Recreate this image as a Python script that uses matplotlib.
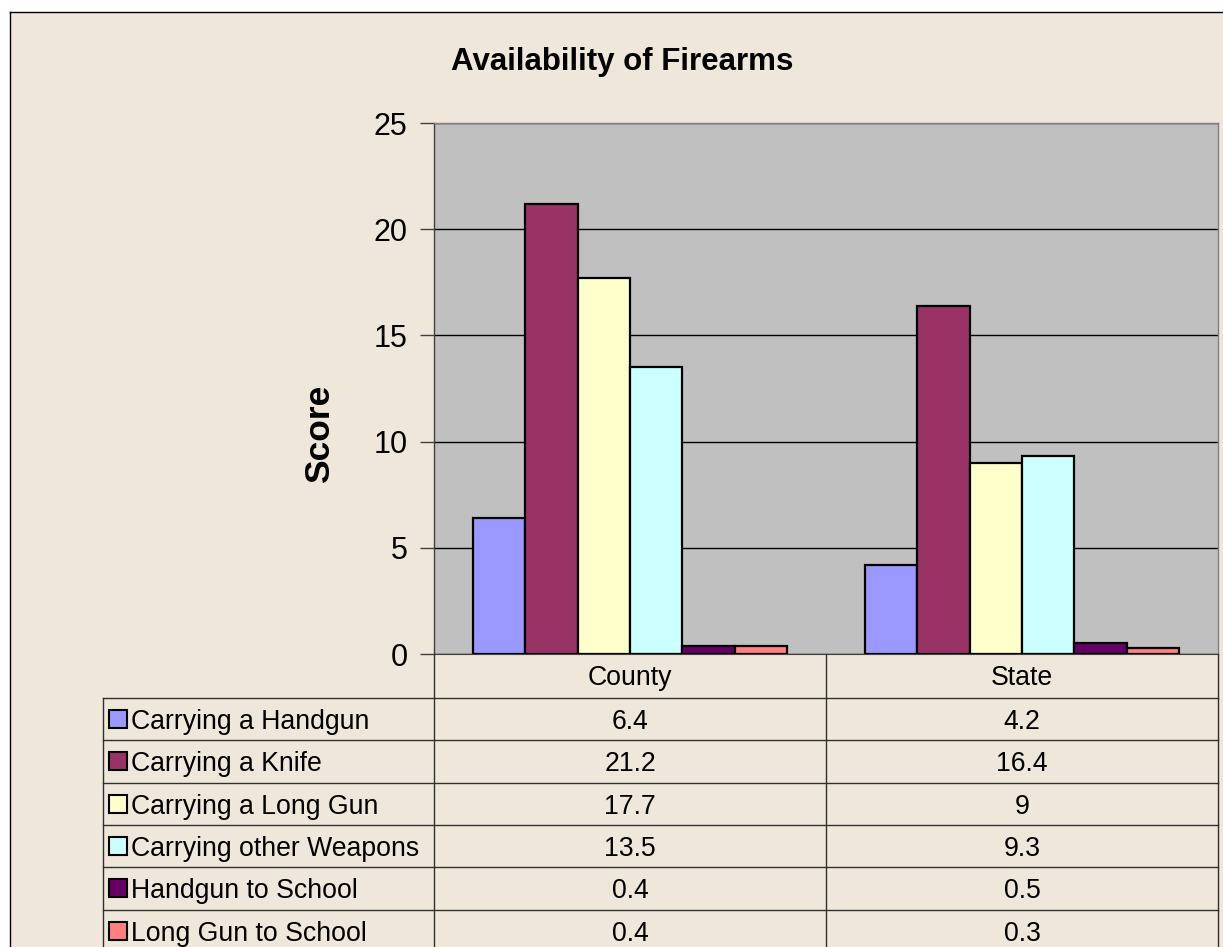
import matplotlib.pyplot as plt
from matplotlib.patches import Rectangle
from matplotlib.lines import Line2D

plt.rcParams['font.family'] = ['Liberation Sans', 'DejaVu Sans']

categories = ["County", "State"]
series_names = [
    "Carrying a Handgun",
    "Carrying a Knife",
    "Carrying a Long Gun",
    "Carrying other Weapons",
    "Handgun to School",
    "Long Gun to School",
]
county_values = [6.4, 21.2, 17.7, 13.5, 0.4, 0.4]
state_values = [4.2, 16.4, 9, 9.3, 0.5, 0.3]
value_labels = [["6.4", "4.2"], ["21.2", "16.4"], ["17.7", "9"],
                ["13.5", "9.3"], ["0.4", "0.5"], ["0.4", "0.3"]]
y_ticks = [0, 5, 10, 15, 20, 25]

colors = ["#9999FF", "#993366", "#FFFFCC", "#CCFFFF", "#660066", "#FF8080"]
BG = "#EFE7DA"
W, H = 1223, 947


def fx(px):
    return px / W


def fy(py):
    return 1 - py / H


fig = plt.figure(figsize=(W / 100, H / 100), dpi=100, facecolor="white")

# fond du graphique avec bordure gauche/haut
fig.add_artist(Rectangle((fx(10), 0), 1, fy(13), transform=fig.transFigure,
                         facecolor=BG, edgecolor="none", zorder=0))
fig.add_artist(Line2D([fx(9.5), fx(9.5)], [0, fy(12.5)], transform=fig.transFigure,
                      color="black", lw=1))
fig.add_artist(Line2D([fx(9.5), 1], [fy(12.5), fy(12.5)], transform=fig.transFigure,
                      color="black", lw=1))

left, right, top, bottom = 434, 1218, 123, 654
ax = fig.add_axes([fx(left), fy(bottom), fx(right) - fx(left), fy(top) - fy(bottom)])
ax.set_facecolor("#C0C0C0")

n = len(series_names)
bw = 1 / (n + 1.5)
data = [county_values, state_values]
for i in range(n):
    xs = [c + 0.5 + (i - (n - 1) / 2) * bw for c in range(len(categories))]
    hs = [data[c][i] for c in range(len(categories))]
    ax.bar(xs, hs, width=bw, color=colors[i], edgecolor="black", linewidth=1.6, zorder=3)

ax.set_xlim(0, len(categories))
ax.set_ylim(0, 25)
ax.set_yticks(y_ticks)
ax.set_yticklabels([str(t) for t in y_ticks], fontsize=22)
ax.tick_params(axis="y", direction="out", length=10, width=1, color="#404040", pad=9)
ax.set_xticks([])
ax.yaxis.grid(True, color="black", linewidth=1, zorder=1)
ax.set_axisbelow(True)
for s in ["top", "right"]:
    ax.spines[s].set_color("#808080")
    ax.spines[s].set_linewidth(1)
ax.spines["left"].set_color("#404040")
ax.spines["bottom"].set_color("#404040")
ax.spines["left"].set_linewidth(1)

# titre et axe y
fig.text(fx(622), fy(70), "Availability of Firearms", ha="center", va="baseline",
         fontsize=22.5, fontweight="bold")
fig.text(fx(320), fy(434), "Score", ha="center", va="center", rotation=90,
         fontsize=25.5, fontweight="bold")

# tableau de données
row_top = 698
row_h = 42.3
col_edges = [left, (left + right) / 2, right]
line_col = "#303030"
fs_table = 19.2
dy = 3  # décalage vertical du texte


def hline(x0, x1, y):
    fig.add_artist(Line2D([fx(x0), fx(x1)], [fy(y), fy(y)], transform=fig.transFigure,
                          color=line_col, lw=1))


def vline(x, y0, y1):
    fig.add_artist(Line2D([fx(x), fx(x)], [fy(y0), fy(y1)], transform=fig.transFigure,
                          color=line_col, lw=1))


for c, name in enumerate(categories):
    cx = (col_edges[c] + col_edges[c + 1]) / 2
    fig.text(fx(cx), fy((bottom + row_top) / 2 + 2), name, ha="center", va="center",
             fontsize=fs_table)

hline(103, right, row_top)
for i in range(1, n + 1):
    hline(103, right, row_top + i * row_h)
vline(103, row_top, H)
for x in col_edges:
    vline(x, bottom, H)

for i in range(n):
    cy = row_top + (i + 0.5) * row_h
    fig.add_artist(Rectangle((fx(109), fy(cy + 9)), fx(18), 18 / H, transform=fig.transFigure,
                             facecolor=colors[i], edgecolor="black", lw=1.5))
    fig.text(fx(131), fy(cy + dy), series_names[i], ha="left", va="center", fontsize=fs_table)
    for c in range(len(categories)):
        cx = (col_edges[c] + col_edges[c + 1]) / 2
        fig.text(fx(cx), fy(cy + dy), value_labels[i][c], ha="center", va="center",
                 fontsize=fs_table)

fig.savefig("out.png", dpi=100, facecolor=fig.get_facecolor())
